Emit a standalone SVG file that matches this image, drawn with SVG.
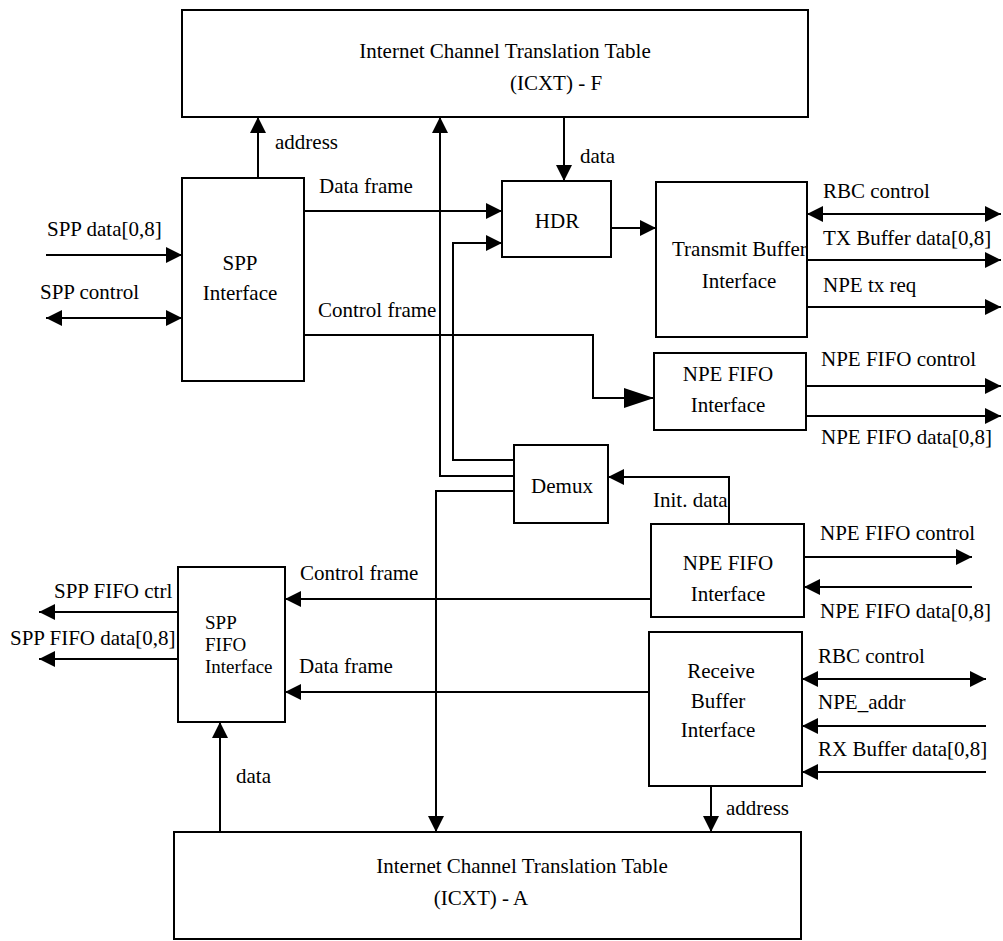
<svg xmlns="http://www.w3.org/2000/svg" width="1003" height="941" viewBox="0 0 1003 941">
<style>
.box{fill:none;stroke:#000;stroke-width:2}
.ln{fill:none;stroke:#000;stroke-width:2}
text{font-family:"Liberation Serif","Times New Roman",serif;font-size:21px;fill:#000}
.c{text-anchor:middle}
.sm{font-size:19px}
</style>
<defs>
<marker id="ah" markerUnits="userSpaceOnUse" markerWidth="16" markerHeight="16" viewBox="0 0 14 14" refX="14" refY="7" orient="auto">
<path d="M0,0 L14,7 L0,14 Z" fill="#000"/>
</marker>
<marker id="as" markerUnits="userSpaceOnUse" markerWidth="16" markerHeight="16" viewBox="0 0 14 14" refX="0" refY="7" orient="auto">
<path d="M14,0 L0,7 L14,14 Z" fill="#000"/>
</marker>
<marker id="big" markerUnits="userSpaceOnUse" markerWidth="30" markerHeight="20" viewBox="0 0 30 20" refX="30" refY="10" orient="auto">
<path d="M0,0 L30,10 L0,20 Z" fill="#000"/>
</marker>
</defs>
<rect width="1003" height="941" fill="#fff"/>

<g id="icxt-f">
<rect class="box" x="182" y="10" width="626" height="107"/>
<text class="c" x="505" y="58">Internet Channel Translation Table</text>
<text class="c" x="556" y="90">(ICXT) - F</text>
</g>
<g id="spp-interface">
<rect class="box" x="182" y="178" width="122" height="203"/>
<text class="c" x="240" y="270">SPP</text>
<text class="c" x="240" y="300">Interface</text>
</g>
<g id="hdr">
<rect class="box" x="502" y="181" width="109" height="76"/>
<text class="c" x="557" y="228">HDR</text>
</g>
<g id="transmit-buffer">
<rect class="box" x="656" y="182" width="151" height="155"/>
<text x="672" y="256">Transmit Buffer</text>
<text class="c" x="739" y="288">Interface</text>
</g>
<g id="npe-fifo-tx">
<rect class="box" x="654" y="353" width="152" height="77"/>
<text class="c" x="728" y="381">NPE FIFO</text>
<text class="c" x="728" y="412">Interface</text>
</g>
<g id="demux">
<rect class="box" x="514" y="445" width="94" height="78"/>
<text class="c" x="562" y="493">Demux</text>
</g>
<g id="npe-fifo-rx">
<rect class="box" x="651" y="524" width="153" height="93"/>
<text class="c" x="728" y="570">NPE FIFO</text>
<text class="c" x="728" y="601">Interface</text>
</g>
<g id="receive-buffer">
<rect class="box" x="649" y="632" width="153" height="154"/>
<text class="c" x="721" y="678">Receive</text>
<text class="c" x="718" y="708">Buffer</text>
<text class="c" x="718" y="737">Interface</text>
</g>
<g id="spp-fifo">
<rect class="box" x="178" y="567" width="107" height="155"/>
<text class="sm" x="205" y="629">SPP</text>
<text class="sm" x="205" y="651">FIFO</text>
<text class="sm" x="205" y="673">Interface</text>
</g>
<g id="icxt-a">
<rect class="box" x="174" y="832" width="627" height="107"/>
<text class="c" x="522" y="873">Internet Channel Translation Table</text>
<text class="c" x="481" y="905">(ICXT) - A</text>
</g>

<g id="connectors">
<path class="ln" d="M258,178 V117" marker-end="url(#ah)"/>
<path class="ln" d="M304,211 H502" marker-end="url(#ah)"/>
<path class="ln" d="M514,460 H453 V243 H502" marker-end="url(#ah)"/>
<path class="ln" d="M514,476 H440 V117" marker-end="url(#ah)"/>
<path class="ln" d="M514,491 H436 V832" marker-end="url(#ah)"/>
<path class="ln" d="M564,117 V181" marker-end="url(#ah)"/>
<path class="ln" d="M611,228 H656" marker-end="url(#ah)"/>
<path class="ln" d="M807,214 H1001" marker-start="url(#as)" marker-end="url(#ah)"/>
<path class="ln" d="M807,260 H1001" marker-end="url(#ah)"/>
<path class="ln" d="M807,307 H1001" marker-end="url(#ah)"/>
<path class="ln" d="M304,335 H593 V398 H654" marker-end="url(#big)"/>
<path class="ln" d="M806,386 H1001" marker-end="url(#ah)"/>
<path class="ln" d="M806,416 H1001" marker-end="url(#ah)"/>
<path class="ln" d="M729,524 V477 H608" marker-end="url(#ah)"/>
<path class="ln" d="M804,557 H972" marker-end="url(#ah)"/>
<path class="ln" d="M972,587 H804" marker-end="url(#ah)"/>
<path class="ln" d="M651,599 H285" marker-end="url(#ah)"/>
<path class="ln" d="M649,692 H285" marker-end="url(#ah)"/>
<path class="ln" d="M802,679 H986" marker-start="url(#as)" marker-end="url(#ah)"/>
<path class="ln" d="M986,726 H802" marker-end="url(#ah)"/>
<path class="ln" d="M986,772 H802" marker-end="url(#ah)"/>
<path class="ln" d="M711,786 V832" marker-end="url(#ah)"/>
<path class="ln" d="M220,832 V722" marker-end="url(#ah)"/>
<path class="ln" d="M46,255 H182" marker-end="url(#ah)"/>
<path class="ln" d="M46,318 H182" marker-start="url(#as)" marker-end="url(#ah)"/>
<path class="ln" d="M178,612 H39" marker-end="url(#ah)"/>
<path class="ln" d="M178,659 H39" marker-end="url(#ah)"/>
</g>

<g id="labels">
<text x="275" y="149">address</text>
<text x="580" y="163">data</text>
<text x="319" y="193">Data frame</text>
<text x="47" y="236">SPP data[0,8]</text>
<text x="40" y="299">SPP control</text>
<text x="318" y="317">Control frame</text>
<text x="823" y="198">RBC control</text>
<text x="823" y="245">TX Buffer data[0,8]</text>
<text x="823" y="292">NPE tx req</text>
<text x="821" y="366">NPE FIFO control</text>
<text x="821" y="444">NPE FIFO data[0,8]</text>
<text x="653" y="507">Init. data</text>
<text x="820" y="540">NPE FIFO control</text>
<text x="820" y="618">NPE FIFO data[0,8]</text>
<text x="818" y="663">RBC control</text>
<text x="818" y="709">NPE_addr</text>
<text x="818" y="756">RX Buffer data[0,8]</text>
<text x="300" y="580">Control frame</text>
<text x="299" y="673">Data frame</text>
<text x="54" y="598">SPP FIFO ctrl</text>
<text x="10" y="645">SPP FIFO data[0,8]</text>
<text x="236" y="783">data</text>
<text x="726" y="815">address</text>
</g>
</svg>
